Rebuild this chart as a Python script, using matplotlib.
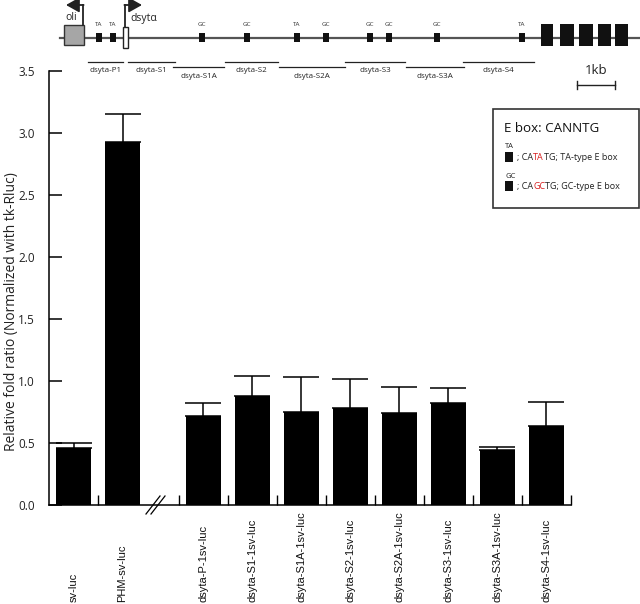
import matplotlib
matplotlib.use("Agg")
import matplotlib.pyplot as plt
from matplotlib.patches import Rectangle
import matplotlib.transforms as mtrans

# ---------------- data ----------------
categories = ['sv-luc', 'PHM-sv-luc', 'dsyta-P-1sv-luc', 'dsyta-S1-1sv-luc',
              'dsyta-S1A-1sv-luc', 'dsyta-S2-1sv-luc', 'dsyta-S2A-1sv-luc',
              'dsyta-S3-1sv-luc', 'dsyta-S3A-1sv-luc', 'dsyta-S4-1sv-luc']
means = [0.46, 2.93, 0.72, 0.88, 0.75, 0.78, 0.74, 0.82, 0.44, 0.64]
upper_err = [0.04, 0.22, 0.10, 0.16, 0.28, 0.24, 0.21, 0.12, 0.03, 0.19]
yticks = [0.0, 0.5, 1.0, 1.5, 2.0, 2.5, 3.0, 3.5]
ylabel = 'Relative fold ratio (Normalized with tk-Rluc)'

# gene diagram annotations (E boxes, exons, fragments)
ebox_x = [99, 113, 202, 247, 297, 326, 370, 389, 437, 522]
ebox_type = ['TA', 'TA', 'GC', 'GC', 'TA', 'GC', 'GC', 'GC', 'GC', 'TA']
exon_spans = [(541, 553), (560, 574), (579, 593), (598, 611), (615, 628)]
fragment_names = ['dsyta-P1', 'dsyta-S1', 'dsyta-S1A', 'dsyta-S2', 'dsyta-S2A',
                  'dsyta-S3', 'dsyta-S3A', 'dsyta-S4']
fragment_spans = [(88, 123), (128, 175), (173, 224), (225, 278), (279, 345),
                  (345, 405), (406, 464), (463, 534)]
fragment_level = [0, 0, 1, 0, 1, 0, 1, 0]

GAP = 0.65
positions = [i + 0.5 + (GAP if i >= 2 else 0) for i in range(len(categories))]
boundaries = [1.0] + [2 + GAP + k for k in range(9)]

fig = plt.figure(figsize=(6.4, 6.04), dpi=100)
W, H = 640, 604
ax = fig.add_axes([49 / W, 1 - 505 / H, (571 - 49) / W, (505 - 71) / H])

ax.bar(positions, means, width=0.73, color='black', zorder=2)
ax.errorbar(positions, means, yerr=[[0] * len(means), upper_err], fmt='none',
            ecolor='black', elinewidth=1.1, capsize=13, capthick=1.1, zorder=3)

ax.set_xlim(0, 2 + GAP + 8)
ax.set_ylim(0, 3.5)
ax.set_yticks(yticks)
ax.set_yticklabels([f'{v:.1f}' for v in yticks], fontfamily='Open Sans',
                   fontsize=8.5, color='#222222')
ax.tick_params(axis='y', direction='in', length=9, width=1.1, pad=10)
ax.set_xticks(boundaries)
ax.set_xticklabels([])
ax.tick_params(axis='x', direction='in', length=7, width=1.0)
for s in ['top', 'right']:
    ax.spines[s].set_visible(False)
for s in ['left', 'bottom']:
    ax.spines[s].set_linewidth(1.1)

# x category labels, bottom-aligned at figure bottom
trans = mtrans.blended_transform_factory(ax.transData, fig.transFigure)
for p, lab in zip(positions, categories):
    ax.text(p, 1.5 / H, lab, rotation=90, ha='center', va='bottom',
            transform=trans, fontsize=8, fontfamily='Liberation Sans',
            color='#111111')

fig.text(12 / W, 1 - 312 / H, ylabel, rotation=90, ha='center', va='center',
         fontsize=10, fontfamily='Open Sans', color='#222222')

# ---------------- overlay (pixel coords) ----------------
ov = fig.add_axes([0, 0, 1, 1], zorder=5)
ov.set_xlim(0, W)
ov.set_ylim(H, 0)
ov.axis('off')
ov.patch.set_alpha(0)

# axis break mark
for dx in (0, 5):
    ov.plot([146 + dx, 160 + dx], [514, 496], color='black', lw=0.9)

# gene line
ov.plot([60, 640], [38, 38], color='#555555', lw=1.6, zorder=1)
ov.add_patch(Rectangle((64, 25), 20, 20, facecolor='#a6a6a6',
                       edgecolor='#333333', lw=1.0, zorder=2))
ov.add_patch(Rectangle((123, 27), 5, 21, facecolor='white',
                       edgecolor='#222222', lw=1.0, zorder=2))
# bent arrows
ov.plot([83, 83], [25, 5], color='#222222', lw=1.3)
ov.annotate('', xy=(66, 5), xytext=(83.6, 5),
            arrowprops=dict(arrowstyle='-|>,head_length=0.8,head_width=0.45',
                            color='#222222', lw=1.3, shrinkA=0, shrinkB=0))
ov.plot([125, 125], [27, 5], color='#222222', lw=1.3)
ov.annotate('', xy=(142, 5), xytext=(124.4, 5),
            arrowprops=dict(arrowstyle='-|>,head_length=0.8,head_width=0.45',
                            color='#222222', lw=1.3, shrinkA=0, shrinkB=0))
ov.text(65, 18, 'oli', fontsize=7.5, fontfamily='Open Sans', va='center',
        ha='left', color='#222222')
ov.text(130, 18, 'dsyt\u03b1', fontsize=7.5, fontfamily='Open Sans', va='center',
        ha='left', color='#222222')

for x, t in zip(ebox_x, ebox_type):
    ov.add_patch(Rectangle((x - 3, 33), 6, 9, facecolor='#111111',
                           edgecolor='none', zorder=3))
    ov.text(x, 25, t, fontsize=4.5, fontfamily='Open Sans', ha='center',
            va='center', color='#333333')
for a, b in exon_spans:
    ov.add_patch(Rectangle((a, 24), b - a, 22, facecolor='#111111',
                           edgecolor='none', zorder=3))

for name, (a, b), lev in zip(fragment_names, fragment_spans, fragment_level):
    yl = 62 if lev == 0 else 67
    ov.plot([a, b], [yl, yl], color='#222222', lw=0.9)
    ov.text((a + b) / 2, yl + 9, name, fontsize=5.8, fontfamily='Open Sans',
            ha='center', va='center', color='#222222')

# scale bar
ov.text(596, 70, '1kb', fontsize=9.5, fontfamily='Open Sans', ha='center',
        va='center', color='#222222')
ov.plot([577, 615], [85, 85], color='#222222', lw=1.0)
ov.plot([577, 577], [81, 89], color='#222222', lw=1.0)
ov.plot([615, 615], [81, 89], color='#222222', lw=1.0)

# legend box
ov.add_patch(Rectangle((493, 109), 146, 99, facecolor='white',
                       edgecolor='#333333', lw=1.2, zorder=1))
ov.text(504, 128, 'E box: CANNTG', fontsize=9.6, fontfamily='Open Sans',
        ha='left', va='center', color='#111111')


def multicolor(x, y, pieces, size):
    t = ov.text(x, y, pieces[0][0], fontsize=size, fontfamily='Open Sans',
                ha='left', va='bottom', color=pieces[0][1])
    for txt, col in pieces[1:]:
        t = ov.annotate(txt, xycoords=t, xy=(1, 0), va='bottom', ha='left',
                        fontsize=size, fontfamily='Open Sans', color=col)


for lab, ytop, pieces in [
    ('TA', 147, [('; CA', '#222222'), ('TA', '#d62020'), ('TG; TA-type E box', '#222222')]),
    ('GC', 176, [('; CA', '#222222'), ('GC', '#d62020'), ('TG; GC-type E box', '#222222')]),
]:
    ov.text(505, ytop, lab, fontsize=5.5, fontfamily='Open Sans', ha='left',
            va='center', color='#222222')
    ov.add_patch(Rectangle((505, ytop + 5), 8, 10, facecolor='#111111',
                           edgecolor='none', zorder=3))
    multicolor(517, ytop + 15, pieces, 6.5)

fig.savefig('out.png', dpi=100)
